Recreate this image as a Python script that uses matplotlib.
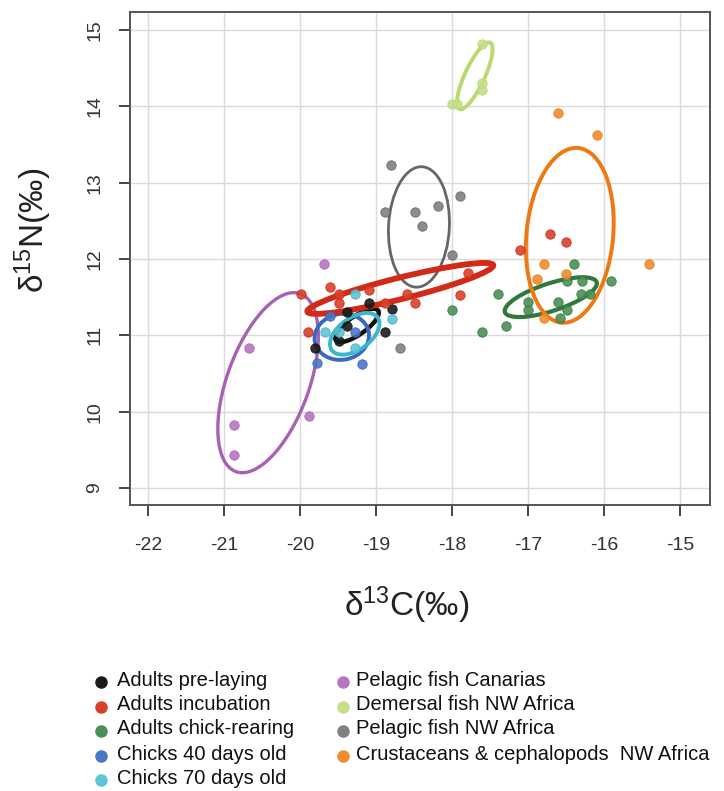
import matplotlib
matplotlib.use("Agg")
import matplotlib.pyplot as plt
from matplotlib.patches import Ellipse
from matplotlib.lines import Line2D

plt.rcParams['font.family'] = ['Liberation Sans', 'DejaVu Sans']
plt.rcParams['mathtext.fontset'] = 'custom'
plt.rcParams['mathtext.rm'] = 'Liberation Sans'
plt.rcParams['mathtext.it'] = 'Liberation Sans'
plt.rcParams['mathtext.bf'] = 'Liberation Sans:bold'

# ---------------- data ----------------
group_names = ["Adults pre-laying", "Adults incubation", "Adults chick-rearing",
               "Chicks 40 days old", "Chicks 70 days old",
               "Pelagic fish Canarias", "Demersal fish NW Africa",
               "Pelagic fish NW Africa", "Crustaceans & cephalopods  NW Africa"]
point_colors = ["#1a1a1a", "#d8402c", "#4b8f57", "#4a76c6", "#5cc5d6",
                "#b874c2", "#c6df88", "#808080", "#f08c2c"]
line_colors = ["#111111", "#d12a16", "#2f7a3a", "#3868c0", "#3cb6cc",
               "#a860b4", "#bcd870", "#666666", "#ee7812"]

pre_laying_x = [-19.09, -19.38, -19.38, -18.79, -18.88, -19.49, -19.8]
pre_laying_y = [11.43, 11.30, 11.12, 11.34, 11.04, 10.92, 10.83]

incubation_x = [-19.60, -19.49, -19.49, -19.09, -18.88, -18.59, -18.49, -19.89,
                -19.99, -17.79, -17.89, -16.71, -16.50, -17.10]
incubation_y = [11.63, 11.54, 11.43, 11.60, 11.43, 11.54, 11.42, 11.04,
                11.54, 11.82, 11.53, 12.33, 12.22, 12.12]

chick_rearing_x = [-18.00, -17.60, -17.40, -17.29, -17.00, -17.00, -16.60, -16.58,
                   -16.49, -16.49, -16.39, -16.29, -16.30, -16.18, -15.91]
chick_rearing_y = [11.33, 11.04, 11.54, 11.12, 11.44, 11.33, 11.44, 11.23,
                   11.33, 11.71, 11.93, 11.71, 11.54, 11.54, 11.71]

chicks40_x = [-19.28, -19.19, -19.78, -19.60]
chicks40_y = [11.04, 10.62, 10.64, 11.25]

chicks70_x = [-19.28, -18.79, -19.67, -19.49, -19.28]
chicks70_y = [11.54, 11.22, 11.04, 11.04, 10.83]

pelagic_can_x = [-19.68, -20.67, -19.88, -20.87, -20.87]
pelagic_can_y = [11.93, 10.83, 9.94, 9.82, 9.43]

demersal_x = [-17.61, -17.61, -17.61, -18.00, -17.94]
demersal_y = [14.82, 14.31, 14.21, 14.03, 14.03]

pelagic_nw_x = [-18.80, -18.88, -18.49, -18.18, -18.39, -17.90, -18.00, -18.68]
pelagic_nw_y = [13.23, 12.62, 12.62, 12.70, 12.43, 12.82, 12.05, 10.83]

crust_x = [-16.60, -16.09, -15.41, -16.79, -16.50, -16.88, -16.79]
crust_y = [13.91, 13.62, 11.93, 11.93, 11.80, 11.74, 11.23]

group_x = [pre_laying_x, incubation_x, chick_rearing_x, chicks40_x, chicks70_x,
           pelagic_can_x, demersal_x, pelagic_nw_x, crust_x]
group_y = [pre_laying_y, incubation_y, chick_rearing_y, chicks40_y, chicks70_y,
           pelagic_can_y, demersal_y, pelagic_nw_y, crust_y]

# standard ellipses: centre x, centre y, major, minor, angle (deg)
ell_cx = [-19.25, -18.68, -16.70, -19.45, -19.28, -20.42, -17.70, -18.435, -16.45]
ell_cy = [11.13, 11.615, 11.50, 10.98, 11.02, 10.38, 14.40, 12.42, 12.31]
ell_w = [0.68, 2.52, 1.27, 0.72, 0.74, 2.48, 0.96, 1.58, 2.30]
ell_h = [0.24, 0.28, 0.36, 0.60, 0.42, 1.08, 0.26, 0.80, 1.14]
ell_ang = [35, 14, 18, 10, 35, 70, 65, 87, 84.5]
ell_lw = [3.2, 4.2, 3.0, 2.8, 2.8, 2.4, 2.8, 2.0, 2.8]
ell_order = [5, 7, 6, 0, 3, 4, 1, 2, 8]

x_ticks = [-22, -21, -20, -19, -18, -17, -16, -15]
y_ticks = [9, 10, 11, 12, 13, 14, 15]

# ---------------- figure ----------------
W, H = 724, 791
fig = plt.figure(figsize=(W / 100, H / 100), dpi=100)
ax = fig.add_axes([130 / W, 1 - 505 / H, 580 / W, 493 / H])

ax.set_xlim(-22.237, -14.605)
ax.set_ylim(8.777, 15.236)
ax.set_xticks(x_ticks)
ax.set_yticks(y_ticks)
ax.set_xticklabels([str(t) for t in x_ticks])
ax.set_yticklabels([str(t) for t in y_ticks], rotation=90, va='center')
ax.grid(True, color='#dadada', lw=1.0, zorder=0)
ax.set_axisbelow(True)
for s in ax.spines.values():
    s.set_color('#555555')
    s.set_linewidth(1.4)
ax.tick_params(axis='both', colors='#444444', labelcolor='#333333',
               labelsize=14, width=1.4, length=8)
ax.tick_params(axis='x', pad=15)
ax.tick_params(axis='y', pad=11)

for k, i in enumerate(ell_order):
    e = Ellipse((ell_cx[i], ell_cy[i]), ell_w[i], ell_h[i], angle=ell_ang[i],
                fill=False, edgecolor=line_colors[i], lw=ell_lw[i], zorder=3 + k * 0.01)
    ax.add_patch(e)

for i in range(len(group_names)):
    ax.scatter(group_x[i], group_y[i], s=46, color=point_colors[i],
               edgecolors=line_colors[i], linewidths=0.6, alpha=0.9, zorder=5)

fig.text(407 / W, 1 - 605 / H, 'δ$^{13}$C(‰)', fontsize=24,
         ha='center', va='center', color='#222222')
fig.text(33 / W, 1 - 230 / H, 'δ$^{15}$N(‰)', fontsize=24, rotation=90,
         ha='center', va='center', color='#222222')

# legend (two columns)
rows_y = [680, 705, 729, 754, 778]
for i, name in enumerate(group_names):
    if i < 5:
        mx, tx, ry = 101, 117, rows_y[i]
    else:
        mx, tx, ry = 343, 356, rows_y[i - 5]
    fig.add_artist(Line2D([mx / W], [1 - (ry + 2) / H], transform=fig.transFigure,
                          marker='o', markersize=8, color=point_colors[i],
                          markeredgecolor=point_colors[i], linestyle='none'))
    fig.text(tx / W, 1 - ry / H, name, fontsize=14.5, ha='left', va='center',
             color='#111111')

fig.savefig('out.png', dpi=100)
